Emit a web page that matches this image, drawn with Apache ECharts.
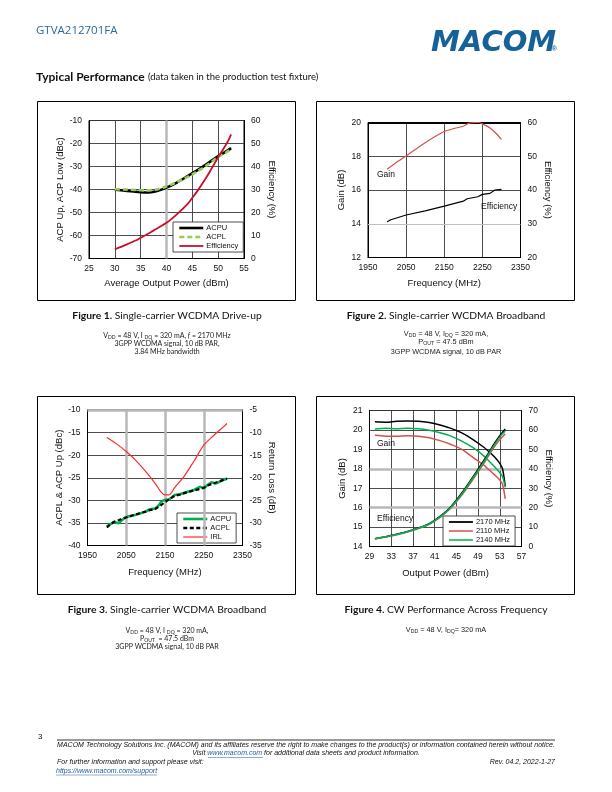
<!DOCTYPE html>
<html><head><meta charset="utf-8">
<script src="https://cdn.jsdelivr.net/npm/echarts@6/dist/echarts.min.js"></script>
<style>html,body{margin:0;padding:0;background:#fff}#c{width:612px;height:792px}</style>
</head><body><div id="c"></div>
<script>
// ---------- Figure 1 ----------
const f1Power = [30, 32, 34, 35, 36, 37, 38, 40, 42, 44, 45, 46, 48, 50, 51, 52, 52.5];
const f1ACPU = [-40.1, -40.5, -41.0, -41.2, -41.3, -41.2, -40.8, -39.2, -37.0, -34.3, -32.9, -31.6, -28.6, -25.5, -24.2, -22.8, -22.0];
const f1ACPLPower = [30, 32, 34, 35, 36, 37, 38, 40, 42, 44, 45, 46, 48, 50, 51, 52, 52.7];
const f1ACPL = [-39.9, -40.0, -40.2, -40.3, -40.4, -40.3, -40.0, -38.7, -36.8, -34.6, -33.4, -32.1, -29.2, -25.8, -24.6, -23.2, -22.0];
const f1Eff = [4.0, 5.8, 7.8, 9.0, 10.2, 11.5, 12.8, 15.5, 19.2, 23.5, 26.4, 29.4, 36.3, 44.0, 47.6, 51.5, 54.0];
const f1XTicks = { min: 25, max: 55, step: 5 };
const f1LTicks = { min: -70, max: -10, step: 10 };
const f1RTicks = { min: 0, max: 60, step: 10 };

// ---------- Figure 2 ----------
const f2GainFreq = [2000, 2010, 2025, 2050, 2075, 2100, 2125, 2150, 2175, 2200, 2215, 2240, 2250, 2270, 2285, 2300];
const f2Gain = [17.23, 17.4, 17.65, 18.02, 18.42, 18.8, 19.15, 19.47, 19.64, 19.78, 19.96, 20.0, 19.92, 19.68, 19.38, 19.0];
const f2EffFreq = [2000, 2010, 2050, 2100, 2150, 2200, 2210, 2238, 2250, 2270, 2283, 2300];
const f2Eff = [30.6, 31.2, 32.6, 33.8, 35.2, 36.7, 37.4, 38.0, 38.7, 39.0, 40.0, 40.2];
const f2XTicks = { min: 1950, max: 2350, step: 100 };
const f2LTicks = { min: 12, max: 20, step: 2 };
const f2RTicks = { min: 20, max: 60, step: 10 };

// ---------- Figure 3 ----------
const f3Freq = [2000, 2010, 2020, 2030, 2040, 2050, 2075, 2100, 2110, 2125, 2135, 2140, 2150, 2160, 2175, 2190, 2200, 2225, 2240, 2250, 2260, 2270, 2280, 2290, 2300, 2310];
const f3ACPU = [-35.8, -35.2, -34.8, -35.1, -34.3, -33.7, -33.2, -32.5, -32.0, -31.8, -31.0, -30.3, -29.9, -29.8, -28.8, -28.6, -28.3, -27.7, -27.0, -27.3, -26.6, -26.0, -26.3, -25.9, -25.5, -25.2];
const f3ACPL = [-36.0, -35.2, -34.7, -34.4, -34.0, -33.8, -33.1, -32.5, -32.2, -31.9, -31.4, -31.1, -30.4, -29.8, -29.0, -28.7, -28.4, -27.8, -27.5, -27.2, -26.7, -26.4, -26.1, -25.8, -25.5, -25.2];
const f3IRLFreq = [2000, 2025, 2050, 2075, 2100, 2125, 2140, 2150, 2160, 2175, 2200, 2225, 2250, 2275, 2300, 2310];
const f3IRL = [-11.1, -12.5, -14.2, -16.2, -18.6, -21.3, -23.2, -23.8, -23.8, -22.2, -19.6, -16.3, -12.8, -10.7, -8.8, -8.0];
const f3XTicks = { min: 1950, max: 2350, step: 100 };
const f3LTicks = { min: -40, max: -10, step: 5 };
const f3RTicks = { min: -35, max: -5, step: 5 };

// ---------- Figure 4 ----------
const f4Pout = [30, 32, 34, 36, 38, 40, 42, 44, 46, 48, 50, 51, 52, 53, 53.5, 54];
const f4Gain2170 = [20.42, 20.40, 20.45, 20.46, 20.45, 20.38, 20.25, 20.08, 19.85, 19.52, 19.12, 18.88, 18.62, 18.28, 18.0, 17.1];
const f4Gain2110 = [19.72, 19.68, 19.68, 19.70, 19.68, 19.60, 19.45, 19.25, 19.0, 18.6, 18.2, 17.95, 17.7, 17.42, 17.2, 16.45];
const f4Gain2140 = [20.05, 20.08, 20.06, 20.08, 20.06, 19.98, 19.85, 19.68, 19.42, 19.1, 18.68, 18.4, 18.12, 17.8, 17.6, 17.05];
const f4Eff2170 = [4.0, 5.0, 6.3, 7.7, 9.5, 11.8, 15.5, 20.5, 27.5, 35.5, 44.0, 48.5, 53.0, 57.0, 58.8, 60.5];
const f4Eff2110 = [3.9, 4.9, 6.1, 7.5, 9.2, 11.4, 15.0, 19.8, 26.5, 34.3, 42.5, 47.0, 51.3, 55.0, 56.5, 58.0];
const f4Eff2140 = [4.0, 5.0, 6.2, 7.6, 9.4, 11.6, 15.2, 20.2, 27.0, 35.0, 43.3, 47.8, 52.3, 56.3, 58.0, 59.5];
const f4XTicks = { min: 29, max: 57, step: 4 };
const f4LTicks = { min: 14, max: 21, step: 1 };
const f4RTicks = { min: 0, max: 70, step: 10 };

const zip = (xs, ys) => xs.map((x, i) => [x, ys[i]]);

const CF = "'Liberation Sans', Arial, sans-serif";
const DF = "Lato, 'Open Sans', sans-serif";
const GRID_DARK = '#3a3a3a';
const GRID_GRAY = '#b8b8b8';

function xAx(gi, t, name, nameGap) {
  return {
    type: 'value', gridIndex: gi, min: t.min, max: t.max, interval: t.step,
    name: name, nameLocation: 'middle', nameGap: nameGap,
    nameTextStyle: { fontFamily: CF, fontSize: 9.5, color: '#111' },
    axisLine: { show: true, lineStyle: { color: '#000', width: 1 } },
    axisTick: { show: false },
    axisLabel: { fontFamily: CF, fontSize: 8.5, color: '#111', margin: 6, formatter: v => String(v) },
    splitLine: { show: true, lineStyle: { color: GRID_DARK, width: 0.9 } }
  };
}
function yAx(gi, t, pos, name, nameGap, split) {
  return {
    type: 'value', gridIndex: gi, position: pos, min: t.min, max: t.max, interval: t.step,
    name: name, nameLocation: 'middle', nameGap: nameGap,
    nameRotate: pos === 'left' ? 90 : -90,
    nameTextStyle: { fontFamily: CF, fontSize: 9.5, color: '#111' },
    axisLine: { show: true, lineStyle: { color: '#000', width: 1 } },
    axisTick: { show: false },
    axisLabel: { fontFamily: CF, fontSize: 8.5, color: '#111', margin: 7, formatter: v => String(v) },
    splitLine: { show: split, lineStyle: { color: GRID_DARK, width: 0.9 } }
  };
}
function line(name, xi, yi, data, color, width, opts) {
  return Object.assign({
    type: 'line', name: name, xAxisIndex: xi, yAxisIndex: yi, data: data,
    showSymbol: false, symbol: 'none', smooth: false, animation: false, z: 5,
    lineStyle: { color: color, width: width }, itemStyle: { color: color }
  }, opts || {});
}
function guide(xi, yi, marks, color, width) {
  return {
    type: 'line', name: '_g' + xi + '_' + color, xAxisIndex: xi, yAxisIndex: yi, data: [], z: 2, silent: true, animation: false,
    markLine: { silent: true, symbol: 'none', label: { show: false }, animation: false,
      lineStyle: { color: color, width: width, type: 'solid' }, data: marks }
  };
}
function legend(items, left, top) {
  return {
    data: items, left: left, top: top, orient: 'vertical', selectedMode: false,
    itemWidth: 24, itemHeight: 8, itemGap: 1, padding: [2, 5, 2, 5],
    backgroundColor: '#fff', borderColor: '#222', borderWidth: 0.8, borderRadius: 0,
    itemStyle: { opacity: 0, borderWidth: 0 },
    textStyle: { fontFamily: CF, fontSize: 7.5, color: '#111', padding: [0, 0, 0, -2] },
    formatter: n => n.trim()
  };
}
function txt(x, y, text, size, opts) {
  return { type: 'text', silent: true, z: 10, style: Object.assign({ x: x, y: y, text: text,
    fontFamily: DF, fontSize: size, fill: '#111', textAlign: 'left', textVerticalAlign: 'middle' }, opts || {}) };
}
function rect(x, y, w, h, stroke, lw) {
  return { type: 'rect', silent: true, z: 1, shape: { x: x, y: y, width: w, height: h },
    style: { fill: 'none', stroke: stroke, lineWidth: lw } };
}
function hline(x1, x2, y, color, lw) {
  return { type: 'line', silent: true, z: 1, shape: { x1: x1, y1: y, x2: x2, y2: y }, style: { stroke: color, lineWidth: lw } };
}
const subRich = {
  n: { fontSize: 7, fontFamily: DF, fill: '#222' },
  s: { fontSize: 5, fontFamily: DF, fill: '#222', verticalAlign: 'bottom', padding: [3, 0, 0, 0] },
  a: { fontSize: 7.3, fontFamily: CF, fill: '#222' },
  as: { fontSize: 5.2, fontFamily: CF, fill: '#222', verticalAlign: 'bottom', padding: [3, 0, 0, 0] },
  i: { fontSize: 7, fontFamily: DF, fill: '#222', fontStyle: 'italic' }
};
const capRich = {
  b: { fontSize: 10.3, fontFamily: DF, fontWeight: 'bold', fill: '#111' },
  r: { fontSize: 10.3, fontFamily: DF, fill: '#111' }
};
function rt(x, y, text, rich) {
  return { type: 'text', silent: true, z: 10, style: { x: x, y: y, text: text, rich: rich,
    textAlign: 'center', textVerticalAlign: 'middle' } };
}
const FS = 7;
const footRich = {
  t: { fontSize: FS, fontFamily: CF, fontStyle: 'italic', fill: '#111' },
  l: { fontSize: FS, fontFamily: CF, fontStyle: 'italic', fill: '#1f5c99' }
};

const chart = echarts.init(document.getElementById('c'), null, { renderer: 'canvas' });
chart.setOption({
  animation: false,
  backgroundColor: '#fff',
  grid: [
    { left: 89, top: 120.5, width: 155, height: 138, show: true, borderColor: '#000', borderWidth: 1, backgroundColor: 'transparent' },
    { left: 368, top: 122.5, width: 152.5, height: 135, show: true, borderColor: '#000', borderWidth: 1 },
    { left: 87.5, top: 410, width: 155, height: 135.5, show: true, borderColor: '#000', borderWidth: 1 },
    { left: 369.5, top: 410.5, width: 152, height: 136, show: true, borderColor: '#000', borderWidth: 1 }
  ],
  xAxis: [
    xAx(0, f1XTicks, 'Average Output Power (dBm)', 20),
    xAx(1, f2XTicks, 'Frequency (MHz)', 21),
    xAx(2, f3XTicks, 'Frequency (MHz)', 22),
    xAx(3, f4XTicks, 'Output Power (dBm)', 22)
  ],
  yAxis: [
    yAx(0, f1LTicks, 'left', 'ACP Up, ACP Low (dBc)', 23, true),
    yAx(0, f1RTicks, 'right', 'Efficiency (%)', 23, false),
    yAx(1, f2LTicks, 'left', 'Gain (dB)', 22, true),
    yAx(1, f2RTicks, 'right', 'Efficiency (%)', 22, false),
    yAx(2, f3LTicks, 'left', 'ACPL & ACP Up (dBc)', 22, true),
    yAx(2, f3RTicks, 'right', 'Return Loss (dB)', 24, false),
    yAx(3, f4LTicks, 'left', 'Gain (dB)', 22, true),
    yAx(3, f4RTicks, 'right', 'Efficiency (%)', 22, false)
  ],
  legend: [
    legend([{ name: 'ACPU', lineStyle: { width: 2.6 } }, { name: 'ACPL', lineStyle: { width: 2.6 } }, { name: 'Efficiency', lineStyle: { width: 1.8 } }], 173, 222),
    legend([{ name: 'ACPU ', lineStyle: { width: 2.6 } }, { name: 'ACPL ', lineStyle: { width: 2.4 } }, { name: 'IRL', lineStyle: { width: 1.2 } }], 177, 513),
    legend([{ name: '2170 MHz', lineStyle: { width: 1.8 } }, { name: '2110 MHz', lineStyle: { width: 1.5 } }, { name: '2140 MHz', lineStyle: { width: 1.5 } }], 443, 516)
  ],
  series: [
    guide(0, 0, [{ xAxis: 40 }], GRID_GRAY, 2.5),
    line('ACPU', 0, 0, zip(f1Power, f1ACPU), '#000', 2.6, { smooth: 0.3 }),
    line('ACPL', 0, 0, zip(f1ACPLPower, f1ACPL), '#92d050', 2.6, { smooth: 0.3, lineStyle: { color: '#92d050', width: 2.6, type: [5, 3] } }),
    line('Efficiency', 0, 1, zip(f1Power, f1Eff), '#c8102e', 1.8, { smooth: 0.3 }),

    guide(1, 2, [{ yAxis: 14 }], '#bdbdbd', 1.2),
    guide(1, 2, [{ yAxis: 20 }], '#000', 2),
    line('Gain', 1, 2, zip(f2GainFreq, f2Gain), '#d2514c', 1.2, { smooth: 0.2 }),
    line('Efficiency  ', 1, 3, zip(f2EffFreq, f2Eff), '#000', 1.2),

    guide(2, 4, [{ xAxis: 2050 }, { xAxis: 2150 }, { xAxis: 2250 }, { yAxis: -10 }], GRID_GRAY, 2.5),
    line('ACPU ', 2, 4, zip(f3Freq, f3ACPU), '#00b050', 2.6),
    line('ACPL ', 2, 4, zip(f3Freq, f3ACPL), '#000', 2.2, { lineStyle: { color: '#000', width: 2.2, type: [4, 2.5] } }),
    line('IRL', 2, 5, zip(f3IRLFreq, f3IRL), '#ff2a2a', 1.2, { smooth: 0.3 }),

    guide(3, 6, [{ yAxis: 16 }, { yAxis: 18 }], GRID_GRAY, 2.5),
    line('2170 MHz', 3, 6, zip(f4Pout, f4Gain2170), '#000', 1.5, { smooth: 0.3 }),
    line('2110 MHz', 3, 6, zip(f4Pout, f4Gain2110), '#d2514c', 1.5, { smooth: 0.3 }),
    line('2140 MHz', 3, 6, zip(f4Pout, f4Gain2140), '#00b050', 1.5, { smooth: 0.3 }),
    line('2170 MHz', 3, 7, zip(f4Pout, f4Eff2170), '#000', 1.5, { smooth: 0.3 }),
    line('2110 MHz', 3, 7, zip(f4Pout, f4Eff2110), '#d2514c', 1.5, { smooth: 0.3 }),
    line('2140 MHz', 3, 7, zip(f4Pout, f4Eff2140), '#00b050', 1.5, { smooth: 0.3 })
  ],
  graphic: [
    // header
    txt(36, 31, 'GTVA212701FA', 11.5, { fill: '#2b6a96', fontFamily: "'Open Sans', Lato, sans-serif" }),
    txt(431, 43, 'MACOM', 29, { fill: '#16619a', fontFamily: "'DejaVu Sans', sans-serif", fontWeight: 'bold', fontStyle: 'italic' }),
    txt(552, 49, '®', 6.5, { fill: '#16619a', fontFamily: CF, fontWeight: 'bold' }),
    { type: 'text', silent: true, z: 10, style: { x: 36, y: 77, textVerticalAlign: 'middle',
      text: '{b|Typical Performance} {r|(data taken in the production test fixture)}',
      rich: { b: { fontSize: 12, fontWeight: 'bold', fontFamily: DF, fill: '#111' },
              r: { fontSize: 9.5, fontFamily: DF, fill: '#111' } } } },
    // chart frames
    rect(37.5, 101.5, 258, 199, '#000', 1),
    rect(316.5, 101.5, 258, 199, '#000', 1),
    rect(37.5, 396.5, 258, 198, '#000', 1),
    rect(316.5, 396.5, 258, 198, '#000', 1),
    // in-chart labels
    txt(377, 175, 'Gain', 8.5, { fontFamily: CF }),
    txt(481, 207, 'Efficiency', 8.5, { fontFamily: CF }),
    txt(377, 444, 'Gain', 8.5, { fontFamily: CF }),
    txt(377, 519, 'Efficiency', 8.5, { fontFamily: CF }),
    // captions
    rt(167, 316, '{b|Figure 1.}{r| Single-carrier WCDMA Drive-up}', capRich),
    rt(167, 336, '{n|V}{s|DD}{n| = 48 V, I }{s|DQ}{n| = 320 mA, }{i|f}{n| = 2170 MHz}', subRich),
    rt(167, 344, '{n|3GPP WCDMA signal, 10 dB PAR,}', subRich),
    rt(167, 352, '{n|3.84 MHz bandwidth}', subRich),
    rt(446, 316, '{b|Figure 2.}{r| Single-carrier WCDMA Broadband}', capRich),
    rt(446, 334, '{a|V}{as|DD}{a| = 48 V, I}{as|DQ}{a| = 320 mA,}', subRich),
    rt(446, 342, '{a|P}{as|OUT}{a| = 47.5 dBm}', subRich),
    rt(446, 352, '{a|3GPP WCDMA signal, 10 dB PAR}', subRich),
    rt(167, 610, '{b|Figure 3.}{r| Single-carrier WCDMA Broadband}', capRich),
    rt(167, 631, '{n|V}{s|DD}{n| = 48 V, I }{s|DQ}{n| = 320 mA,}', subRich),
    rt(167, 639, '{n|P}{s|OUT}{n|  = 47.5 dBm}', subRich),
    rt(167, 647, '{n|3GPP WCDMA signal, 10 dB PAR}', subRich),
    rt(446, 610, '{b|Figure 4.}{r| CW Performance Across Frequency}', capRich),
    rt(446, 630, '{a|V}{as|DD}{a| = 48 V, I}{as|DQ}{a|= 320 mA}', subRich),
    // footer
    txt(38, 737, '3', 8, { fontFamily: CF }),
    hline(57, 555, 740, '#000', 0.8),
    rt(306, 745, '{t|MACOM Technology Solutions Inc. (MACOM) and its affiliates reserve the right to make changes to the product(s) or information contained herein without notice.}', footRich),
    rt(306, 753.5, '{t|Visit }{l|www.macom.com}{t| for additional data sheets and product information.}', footRich),
    hline(208, 263, 757.5, '#1f5c99', 0.5),
    txt(57, 762.5, 'For further information and support please visit:', FS, { fontFamily: CF, fontStyle: 'italic' }),
    txt(555, 762.5, 'Rev. 04.2, 2022-1-27', FS, { fontFamily: CF, fontStyle: 'italic', textAlign: 'right' }),
    txt(56, 771, 'https://www.macom.com/support', FS, { fontFamily: CF, fontStyle: 'italic', fill: '#1f5c99' }),
    hline(56, 157, 775, '#1f5c99', 0.5)
  ]
});
</script></body></html>
